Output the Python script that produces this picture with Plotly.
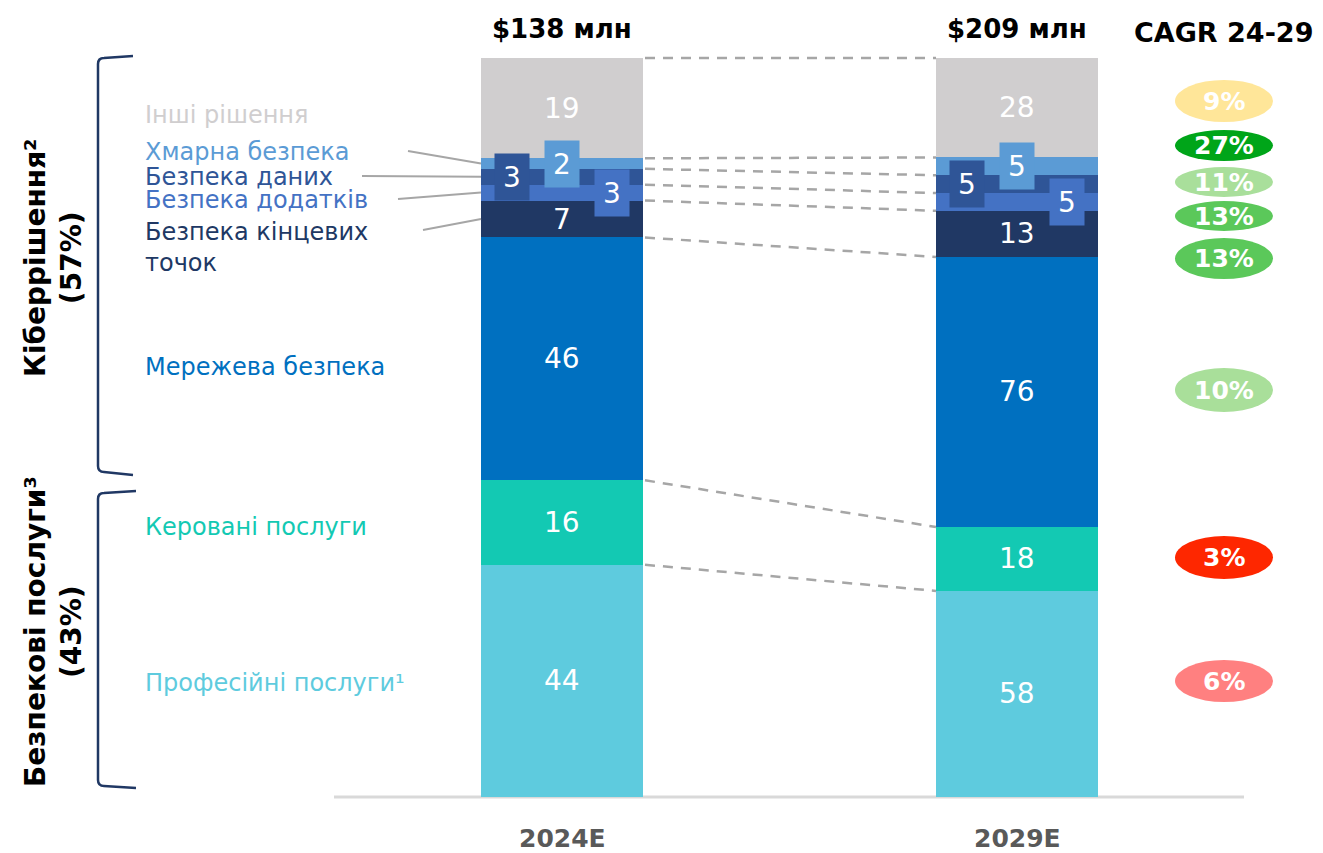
import plotly.graph_objects as go

# ---------------- data ----------------
years = ["2024E", "2029E"]
totals = [138, 209]
categories = ["Професійні послуги¹", "Керовані послуги", "Мережева безпека",
              "Безпека кінцевих<br>точок", "Безпека додатків", "Безпека даних",
              "Хмарна безпека", "Інші рішення"]
values_2024 = [44, 16, 46, 7, 3, 3, 2, 19]
values_2029 = [58, 18, 76, 13, 5, 5, 5, 28]
cagr = ["6%", "3%", "10%", "13%", "13%", "11%", "27%", "9%"]
group_labels = ["Кіберрішення²<br>(57%)", "Безпекові послуги³<br>(43%)"]
cagr_title = "CAGR 24-29"

# ---------------- style ----------------
seg_colors = ["#5ecbde", "#13c9b3", "#0070c0", "#203864", "#4472c4", "#2f5597", "#5b9bd5", "#d0cecf"]
pill_colors = ["#ff8080", "#fe2700", "#a9df9a", "#5bc85a", "#5bc85a", "#a9df9b", "#00a519", "#ffe699"]
FONT = "DejaVu Sans"
OFF = 8  # page body margin
W, H = 1323 - OFF, 853 - OFF

# screen pixel -> data mapping (bar 1 centre at px 562, bar 2 at 1017; baseline at 797, top at 58)
X0, PXX = 562.0, 455.0
Y0, PXY = 797.0, 739.0
def dx(px):
    return (px - X0) / PXX
def dy(py):
    return (Y0 - py) / PXY

BAR_W = 162 / PXX

series = [values_2024, values_2029]
fracs, bottoms = [], []
for vals in series:
    s = float(sum(vals))
    f = [v / s for v in vals]
    b, acc = [], 0.0
    for v in f:
        b.append(acc)
        acc += v
    fracs.append(f)
    bottoms.append(b)

fig = go.Figure()
for i, cat in enumerate(categories):
    fig.add_trace(go.Bar(
        x=[0, 1], y=[fracs[0][i], fracs[1][i]], width=BAR_W,
        marker=dict(color=seg_colors[i], line=dict(width=0)),
        name=cat.replace("<br>", " "), hoverinfo="skip", showlegend=False))

annotations = []
shapes = []

# segment value labels
callout_offset = {4: 1, 5: -1, 6: 0}
for j, vals in enumerate(series):
    for i, v in enumerate(vals):
        yc = bottoms[j][i] + fracs[j][i] / 2
        if i in callout_offset:
            annotations.append(dict(
                x=j + callout_offset[i] * 50 / PXX, y=yc, xref="x", yref="y",
                text=str(v), showarrow=False, bgcolor=seg_colors[i], width=34, height=46,
                borderpad=0, font=dict(family=FONT, size=28, color="white")))
        else:
            annotations.append(dict(
                x=j, y=yc, xref="x", yref="y", text=str(v), showarrow=False,
                font=dict(family=FONT, size=28, color="white")))

# dashed connectors between segment tops
for i in range(len(categories)):
    t0 = bottoms[0][i] + fracs[0][i]
    t1 = bottoms[1][i] + fracs[1][i]
    shapes.append(dict(type="line", xref="x", yref="y",
                       x0=BAR_W / 2 + 2 / PXX, y0=t0, x1=1 - BAR_W / 2, y1=t1,
                       line=dict(color="#a6a6a6", width=2.5, dash="10px,8px")))

# baseline
shapes.append(dict(type="line", xref="x", yref="y", x0=dx(334), x1=dx(1244), y0=0, y1=0,
                   line=dict(color="#d9d9d9", width=3), layer="below"))

# left category labels
label_y_px = [683, 527, 367, 247, 200, 177, 152, 115]
for i, cat in enumerate(categories):
    annotations.append(dict(
        x=dx(143), y=dy(label_y_px[i]), xref="x", yref="y", text=cat, showarrow=False,
        xanchor="left", yanchor="middle", align="left",
        font=dict(family=FONT, size=24, color=seg_colors[i])))

# leader lines to small segments
leader_start = {3: (423, 230), 4: (398, 199), 5: (362, 176), 6: (408, 151)}
for i, (sx, sy) in leader_start.items():
    shapes.append(dict(type="line", xref="x", yref="y",
                       x0=dx(sx), y0=dy(sy), x1=-BAR_W / 2,
                       y1=bottoms[0][i] + fracs[0][i] / 2,
                       line=dict(color="#a6a6a6", width=2)))

# brackets
def bracket(top, bottom, tail_top, tail_bottom):
    x = 98
    pts = (f"M {dx(tail_top[0])},{dy(tail_top[1])} L {dx(104)},{dy(top)} "
           f"Q {dx(x)},{dy(top)} {dx(x)},{dy(top + 6)} L {dx(x)},{dy(bottom - 6)} "
           f"Q {dx(x)},{dy(bottom)} {dx(104)},{dy(bottom)} L {dx(tail_bottom[0])},{dy(tail_bottom[1])}")
    return dict(type="path", xref="x", yref="y", path=pts,
                line=dict(color="#203864", width=2.5))

shapes.append(bracket(58, 472, (133, 56), (133, 475)))
shapes.append(bracket(493, 786, (136, 491), (136, 788)))

# group labels (rotated)
for txt, yc in zip(group_labels, [258, 632]):
    annotations.append(dict(
        x=dx(53), y=dy(yc), xref="x", yref="y", text="<b>" + txt + "</b>", showarrow=False,
        textangle=-90, align="center",
        font=dict(family=FONT, size=28, color="black")))

# totals on top
for j, t in enumerate(totals):
    annotations.append(dict(
        x=j, y=dy(29), xref="x", yref="y", text=f"<b>${t} млн</b>", showarrow=False,
        font=dict(family=FONT, size=26, color="black")))

# year labels
for j, yr in enumerate(years):
    annotations.append(dict(
        x=j, y=dy(838), xref="x", yref="y", text=f"<b>{yr}</b>", showarrow=False,
        font=dict(family=FONT, size=25, color="#595959")))

# CAGR header and pills
annotations.append(dict(
    x=dx(1223), y=dy(32), xref="x", yref="y", text=f"<b>{cagr_title}</b>", showarrow=False,
    font=dict(family=FONT, size=27, color="black")))

pill_y_px = [(660, 702), (536, 579), (368, 412), (238, 279), (201, 231), (167, 197), (130, 161), (80, 122)]
for i, c in enumerate(cagr):
    ya, yb = pill_y_px[i]
    shapes.append(dict(type="circle", xref="x", yref="y",
                       x0=dx(1175), x1=dx(1273), y0=dy(yb), y1=dy(ya),
                       fillcolor=pill_colors[i], line=dict(width=0)))
    annotations.append(dict(
        x=dx(1224), y=dy((ya + yb) / 2), xref="x", yref="y", text=f"<b>{c}</b>",
        showarrow=False, font=dict(family=FONT, size=25, color="white")))

fig.update_layout(
    width=W, height=H, autosize=False,
    margin=dict(l=0, r=0, t=0, b=0, pad=0),
    paper_bgcolor="white", plot_bgcolor="white",
    barmode="stack", bargap=0,
    xaxis=dict(range=[dx(OFF), dx(1323)], visible=False, fixedrange=True),
    yaxis=dict(range=[dy(853), dy(OFF)], visible=False, fixedrange=True),
    annotations=annotations, shapes=shapes, showlegend=False,
)

fig.write_html("out.html", config={"displayModeBar": False})
